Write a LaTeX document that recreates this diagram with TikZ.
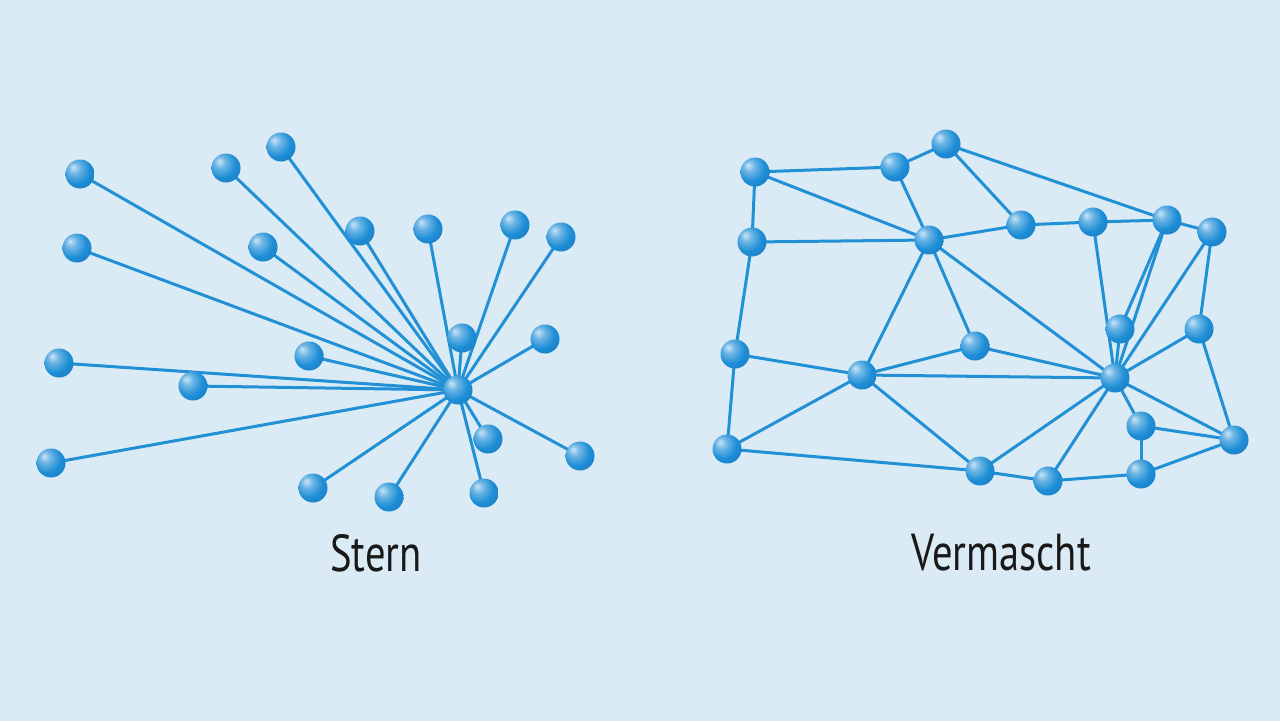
\documentclass[tikz,border=0pt]{standalone}
\usepackage{fontspec}
\setmainfont{PT Sans}
\usetikzlibrary{backgrounds}
\definecolor{bgc}{RGB}{219,235,245}
\definecolor{linec}{RGB}{34,144,212}
\definecolor{ballc}{RGB}{30,142,214}
\definecolor{balldark}{RGB}{20,112,180}
\definecolor{balllight}{RGB}{200,228,246}
\pgfdeclareradialshading{myball}{\pgfpoint{-12bp}{12bp}}{%
  color(0bp)=(balllight);
  color(10bp)=(ballc!65!white);
  color(24bp)=(ballc);
  color(48bp)=(balldark);
  color(70bp)=(balldark)}
\pgfdeclarelayer{edges}
\pgfsetlayers{background,edges,main}
\tikzset{
  ballnode/.style={circle,minimum size=29pt,inner sep=0pt,shading=myball},
  edgeline/.style={draw=linec,line width=3pt},
  caption/.style={font=\fontsize{52}{56}\selectfont,text=black!90,inner sep=0pt}
}
\begin{document}
\begin{tikzpicture}[x=1pt,y=-1pt]
\begin{pgfonlayer}{background}
\fill[bgc] (0,0) rectangle (1280,721);
\end{pgfonlayer}
\useasboundingbox (0,0) rectangle (1280,721);
% ---- Star ----
\node[ballnode] (h) at (458,390) {};
\foreach \n/\x/\y in {a1/80/174,a2/77/248,a3/226/168,a4/281/147,a5/263/247,a6/360/231,a7/428/229,a8/515/225,a9/561/237,a10/462/338,a11/545/339,a12/309/356,a13/59/363,a14/193/386,a15/51/463,a16/313/488,a17/389/497,a18/484/493,a19/488/439,a20/580/456}{
  \node[ballnode] (\n) at (\x,\y) {};
  \begin{pgfonlayer}{edges}
  \draw[edgeline] (h.center) -- (\n.center);
  \end{pgfonlayer}
}
% ---- Mesh ----
\foreach \n/\x/\y in {m1/755/172,m2/895/167,m3/946/144,m4/752/242,m5/929/240,m6/1021/225,m7/1093/222,m8/1167/220,m9/1212/232,m10/735/354,m11/975/346,m12/862/375,m13/1120/329,m14/1199/329,m15/1115/378,m16/727/449,m17/1141/426,m18/1234/440,m19/980/471,m20/1048/481,m21/1141/474}{
  \node[ballnode] (\n) at (\x,\y) {};
}
\begin{pgfonlayer}{edges}
\foreach \a/\b in {m1/m2,m2/m3,m1/m5,m1/m4,m2/m5,m3/m6,m3/m8,m4/m5,m5/m6,m6/m7,m7/m8,m8/m9,m5/m12,m5/m11,m5/m15,m4/m10,m10/m12,m10/m16,m12/m16,m12/m11,m12/m15,m12/m19,m11/m15,m7/m15,m8/m13,m8/m15,m13/m15,m9/m15,m9/m14,m14/m15,m14/m18,m15/m17,m15/m18,m15/m19,m15/m20,m17/m18,m17/m21,m21/m18,m16/m19,m19/m20,m20/m21}{
  \draw[edgeline] (\a.center) -- (\b.center);
}
\end{pgfonlayer}
% ---- Captions ----
\node[caption] (t1) at (376,553) {\scalebox{0.78}[1]{Stern}};
\node[caption] (t2) at (1001,553) {\scalebox{0.78}[1]{Vermascht}};
\end{tikzpicture}
\end{document}
